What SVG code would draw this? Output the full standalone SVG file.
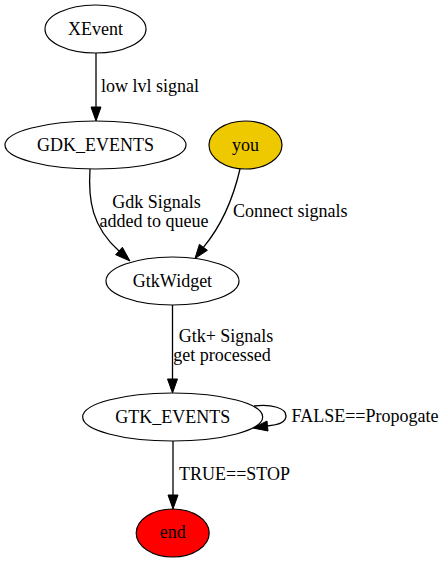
<svg xmlns="http://www.w3.org/2000/svg" width="447" height="563" viewBox="0 0 447 563">
<style>
.n{stroke:#000;stroke-width:1.2}
.t{font-family:"Liberation Serif","Times New Roman",serif;font-size:18px;fill:#000}
.m{text-anchor:middle}
.e{fill:none;stroke:#000;stroke-width:1.3}
.a{fill:#000;stroke:#000;stroke-width:1}
</style>
<rect width="447" height="563" fill="#fff"/>
<g id="connectors">
<g id="e1">
<path class="e" d="M96,53 L96,107"/>
<polygon class="a" points="91,107 101,107 96,121"/>
<text class="t" x="101" y="92">low lvl signal</text>
</g>
<g id="e2">
<path class="e" d="M90,169 C88,200 92,227 119,251"/>
<polygon class="a" points="122.4,247.3 115.6,254.7 130,261"/>
<text class="t m" x="156.5" y="208">Gdk Signals</text>
<text class="t m" x="154" y="227">added to queue</text>
</g>
<g id="e3">
<path class="e" d="M240,169 C234,195 222,225 203.4,247.3"/>
<polygon class="a" points="207.4,250.3 199.4,244.3 195,258.5"/>
<text class="t" x="233" y="217">Connect signals</text>
</g>
<g id="e4">
<path class="e" d="M172.5,305 L172.5,379"/>
<polygon class="a" points="167.5,379 177.5,379 172.5,393"/>
<text class="t m" x="226" y="342">Gtk+ Signals</text>
<text class="t m" x="222" y="361">get processed</text>
</g>
<g id="e5">
<path class="e" d="M254,406 C272,404 286,408 286,416 C286,422 279,425 267,426"/>
<polygon class="a" points="267,421 268,431 253,428"/>
<text class="t" x="291.5" y="422">FALSE==Propogate</text>
</g>
<g id="e6">
<path class="e" d="M173,441 L173,495"/>
<polygon class="a" points="168,495 178,495 173,509"/>
<text class="t" x="179" y="480">TRUE==STOP</text>
</g>
</g>
<g id="XEvent">
<ellipse class="n" cx="95.5" cy="29" rx="50.5" ry="24" fill="#fff"/>
<text class="t m" x="95.5" y="34.5">XEvent</text>
</g>
<g id="GDK_EVENTS">
<ellipse class="n" cx="95.5" cy="145" rx="90.5" ry="24" fill="#fff"/>
<text class="t m" x="95.5" y="150.5">GDK_EVENTS</text>
</g>
<g id="you">
<ellipse class="n" cx="245.5" cy="145" rx="36.5" ry="24" fill="#eec900"/>
<text class="t m" x="245.5" y="150.5">you</text>
</g>
<g id="GtkWidget">
<ellipse class="n" cx="172.5" cy="281" rx="66.5" ry="24" fill="#fff"/>
<text class="t m" x="172.5" y="286.5">GtkWidget</text>
</g>
<g id="GTK_EVENTS">
<ellipse class="n" cx="172.7" cy="417" rx="90" ry="24" fill="#fff"/>
<text class="t m" x="172.7" y="422.5">GTK_EVENTS</text>
</g>
<g id="end">
<ellipse class="n" cx="172.7" cy="533" rx="36.5" ry="24" fill="#ff0000"/>
<text class="t m" x="172.7" y="537.5">end</text>
</g>
</svg>
